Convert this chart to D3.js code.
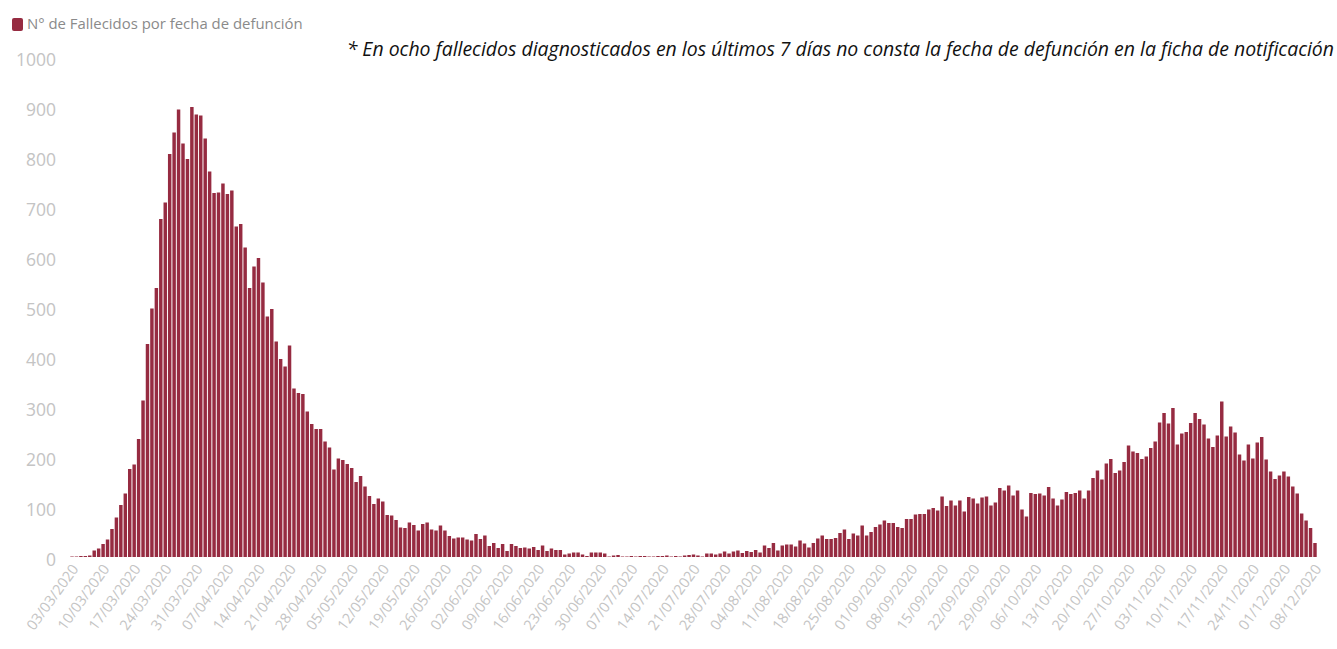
<!DOCTYPE html>
<html><head><meta charset="utf-8">
<script src="https://cdn.jsdelivr.net/npm/d3@7"></script>
<style>
html,body{margin:0;padding:0;background:#fff;}
svg{display:block;}
</style></head>
<body>
<svg id="chart" width="1337" height="649"></svg>
<script>
const startDate = "2020-03-03";
const seriesName = "N° de Fallecidos por fecha de defunción";
const noteText = "* En ocho fallecidos diagnosticados en los últimos 7 días no consta la fecha de defunción en la ficha de notificación";
const yTicks = [0,100,200,300,400,500,600,700,800,900,1000];
// daily deaths 03/03/2020 .. 08/12/2020
const marchValues = [1,1,2,2,3,13,17,26,35,56,79,104,127,176,185,236,313,426,497,538,676,709,806,849,895,827,796,900,885];
const aprilValues = [883,837,771,728,729,747,726,733,661,666,619,538,581,598,549,481,496,431,396,381,423,337,328,326,291,266,256,256,231,219];
const mayValues = [175,197,194,186,178,150,162,141,122,106,117,111,84,83,74,59,58,69,64,53,66,69,55,53,63,53,42,37,39,39,35];
const juneValues = [33,46,36,43,22,28,18,26,12,26,22,18,19,17,20,14,23,12,17,14,14,5,7,9,9,5,2,9,9,9];
const julyValues = [7,1,3,4,1,1,2,1,2,2,1,1,2,2,3,1,2,1,3,4,5,3,1,7,7,5,7,11,7,11,13];
const augustValues = [8,12,10,14,9,23,18,28,13,23,25,25,21,33,27,19,28,37,43,36,36,38,48,55,36,47,43,63,43,50,60];
const septemberValues = [65,73,68,68,60,58,76,76,85,86,86,95,98,93,121,102,113,103,113,91,120,117,107,119,121,103,109,138,133,143];
const octoberValues = [123,133,95,81,128,126,127,123,140,117,103,115,130,126,128,133,117,133,158,173,155,187,196,168,173,190,223,211,208,196,201];
const novemberValues = [218,231,269,288,267,298,225,247,250,268,288,276,265,237,220,243,311,241,261,249,205,193,225,197,229,240,195,171,156,163];
const decemberValues = [171,161,141,127,87,73,58,28];

const values = [].concat(marchValues,aprilValues,mayValues,juneValues,julyValues,augustValues,septemberValues,octoberValues,novemberValues,decemberValues);
const fmt = d3.timeFormat("%d/%m/%Y");
const start = d3.timeParse("%Y-%m-%d")(startDate);
const categories = values.map((v,i)=>fmt(d3.timeDay.offset(start,i)));
const data = categories.map((c,i)=>({date:c, value:values[i]}));

const svg = d3.select("#chart");
const BAR = "#962b41";
const x = d3.scaleBand().domain(categories).range([69.8,1317.2]).paddingInner(0.22).paddingOuter(0.11);
const y = d3.scaleLinear().domain([0,1000]).range([557,57]);

// bars
svg.append("g").selectAll("rect").data(data).join("rect")
  .attr("x",d=>x(d.date)).attr("width",x.bandwidth())
  .attr("y",d=>y(d.value)).attr("height",d=>y(0)-y(d.value))
  .attr("fill",BAR);

// y axis
const yAxis = svg.append("g").attr("transform","translate(56,3)")
  .call(d3.axisLeft(y).tickValues(yTicks).tickSize(0).tickPadding(0).tickFormat(d3.format("d")));
yAxis.select(".domain").remove();
yAxis.selectAll("text").attr("fill","#c4c4c4").style("font-family","'Open Sans', sans-serif").style("font-size","17.5px");

// x axis
const xTicks = categories.filter((c,i)=>i%7===0);
const xAxis = svg.append("g").attr("transform","translate(3,566)")
  .call(d3.axisBottom(x).tickValues(xTicks).tickSize(0).tickPadding(0));
xAxis.select(".domain").remove();
xAxis.selectAll("text")
  .attr("fill","#c4c4c4").style("font-family","'Open Sans', sans-serif").style("font-size","14.5px")
  .attr("text-anchor","end").attr("dy","0.35em").attr("y",0)
  .attr("transform","rotate(-54)");

// legend
svg.append("rect").attr("x",12).attr("y",18).attr("width",11).attr("height",13).attr("rx",2).attr("fill",BAR);
const leg = svg.append("text").attr("x",27).attr("y",29).text(seriesName)
  .attr("fill","#8a8a8a").style("font-family","'Open Sans', sans-serif").style("font-size","13px");
const lw = leg.node().getComputedTextLength();
leg.style("font-size",(13*276/lw).toFixed(2)+"px");

// note
const note = svg.append("text").attr("x",1334).attr("y",56).attr("text-anchor","end").text(noteText)
  .attr("fill","#111").style("font-family","'Open Sans', sans-serif").style("font-style","italic").style("font-size","16px");
const w = note.node().getComputedTextLength();
note.style("font-size",(16*988/w).toFixed(2)+"px");
</script>
</body></html>
